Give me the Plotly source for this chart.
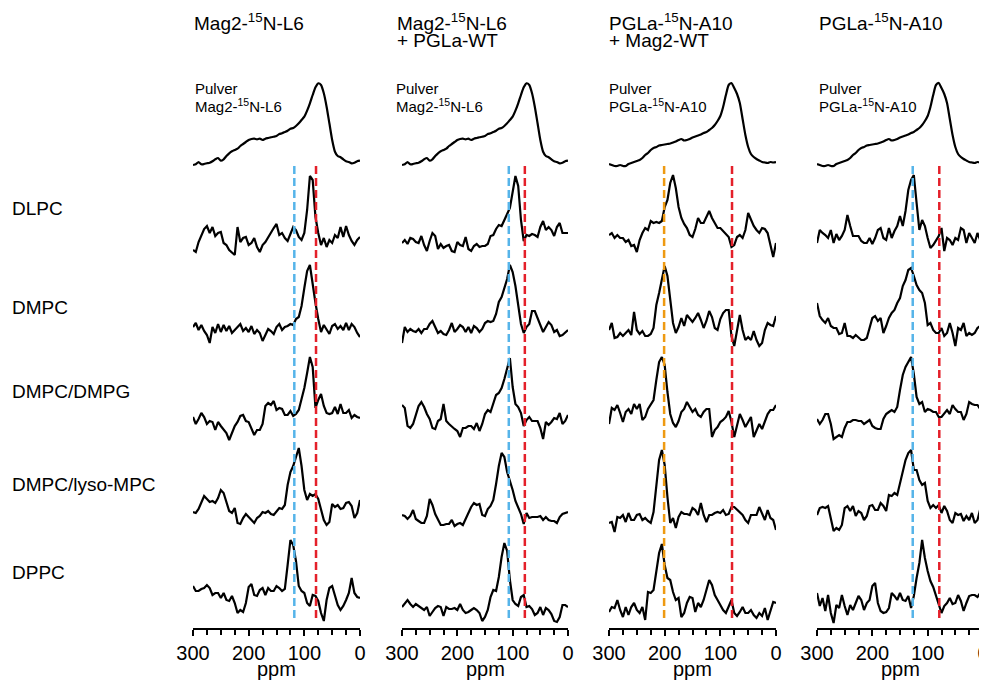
import plotly.graph_objects as go

# ---------------- data ----------------
ppm = list(range(300, -1, -5))  # chemical-shift grid, 300 -> 0 ppm

panel_titles = [["Mag2-<sup>15</sup>N-L6"],
                ["Mag2-<sup>15</sup>N-L6", "+ PGLa-WT"],
                ["PGLa-<sup>15</sup>N-A10", "+ Mag2-WT"],
                ["PGLa-<sup>15</sup>N-A10"]]
pulver_names = ["Mag2-<sup>15</sup>N-L6", "Mag2-<sup>15</sup>N-L6",
                "PGLa-<sup>15</sup>N-A10", "PGLa-<sup>15</sup>N-A10"]
lipids = ["DLPC", "DMPC", "DMPC/DMPG", "DMPC/lyso-MPC", "DPPC"]
tick_vals = [300, 200, 100, 0]
minor_tick_vals = [275, 250, 225, 175, 150, 125, 75, 50, 25]

# reference-line positions (ppm) per panel and their type
ref_ppm = [[118, 79], [107, 78], [201, 79], [127, 79]]
ref_type = [["blue", "red"], ["blue", "red"], ["orange", "red"], ["blue", "red"]]

# powder spectra
pulver_mag2 = [0, 0.7, 3, 0.7, 1, 1.7, 2.3, 3.7, 5.7, 7, 4.3, 5.7, 9, 11.7, 13.7, 15, 16.3, 19, 21, 23,
               25, 26, 26.3, 25.7, 26.3, 25, 26.3, 27, 27.7, 28.3, 29, 31, 31.7, 33, 34.3, 36.3, 37, 39, 41.7, 45,
               48.3, 54.3, 61.7, 70, 77.7, 81.7, 80, 71.7, 58.3, 41.7, 25, 13.3, 9, 7.7, 5.7, 3.7, 3, 1.7, 2.3, 3.7, 4.3]
pulver_pgla = [1, 0, -1, -1, 0, -1, -1, 1, 2, 3, 4, 5, 7, 10, 12, 15, 17, 18, 19.5, 20,
               20.5, 21, 21.5, 22.5, 23.5, 25, 26, 24.5, 25, 26, 27.5, 28.5, 29.5, 30.5, 32, 33, 35, 37, 40, 44,
               49, 58, 70, 80, 82, 77, 71, 62, 46, 30, 18, 11, 8, 6, 4.5, 3, 2.5, 2, 3, 2.5, 3]

# panel 1: Mag2-15N-L6
p1_dlpc = [-10, -12, -2, 5, 11, 14, 7, 13, 4, 7, 8, -3, -5, -10, -13, -15, 13, -2, 2, 3,
           -5, -3, 2, -7, -12, -5, -2, 3, 7, 12, 16, 5, 7, 2, -1, 7, 13, 10, 3, 0,
           7, 30, 64, 60, 23, 7, -5, 2, -7, 0, -3, 5, 2, 13, 3, 14, 5, -1, -5, 0, 3]
p1_dmpc = [0, 4, -3, 2, -4, -8, -16, 0, -6, 3, -5, 2, -4, 1, -6, -3, 1, 3, -4, -1,
           -5, 1, -7, -3, -6, -14, -8, -2, -4, -7, 0, 3, -3, 0, 1, 3, 2, 8, 10, 21,
           39, 56, 62, 42, 24, 8, -5, 2, -3, -7, 1, 3, -2, 1, -3, 4, -3, 3, 0, -6, -10]
p1_dmpg = [3, -4, 1, 7, 3, -4, -1, -2, -10, -2, -6, -9, -13, -20, -13, -6, -2, 4, 5, -1,
           -2, -9, -15, -10, -10, -4, 14, 17, 15, 19, 10, 12, 11, 5, 5, 9, 4, 6, 10, 21,
           32, 47, 63, 53, 12, 20, 26, 14, 7, 6, 7, 13, 6, 16, 7, 7, 10, 2, 5, 3, 2]
p1_lyso = [0, -1, 3, 9, 16, 13, 10, 11, 9, 14, 22, 19, 10, 1, -1, 4, -11, -12, -6, -2,
           -5, -8, -11, -6, -4, 0, -1, 1, -2, -3, 1, 4, 3, 7, 27, 40, 46, 54, 64, 46,
           22, 12, 18, 16, 18, 13, 1, -8, -13, -10, 8, 5, 7, 3, 4, 9, 10, 6, -6, -1, 12]
p1_dppc = [7, 2, 2, 4, 5, 8, 5, -2, 0, 0, -5, 0, -7, -8, -3, -10, -20, -17, -19, -10,
           6, 9, -2, -3, 3, 5, -2, 5, 2, 2, 7, 5, 2, 4, 28, 53, 48, 32, 7, 2,
           0, -10, -13, -2, -3, -8, -20, -28, -7, 5, 7, -2, -12, -17, -13, -7, 0, 15, 0, -4, -5]

# panel 2: Mag2-15N-L6 + PGLa-WT
p2_dlpc = [0, 3, -1, 5, 4, 1, 0, 7, -2, -8, 2, 10, 7, -6, -1, -5, -3, -2, -8, -9,
           1, -2, -3, 6, -6, -8, -3, -1, -4, -3, -3, -1, 7, 8, 14, 18, 17, 24, 29, 35,
           50, 67, 57, 23, 2, 8, 7, 9, 8, 6, 16, 22, 13, 16, 13, 7, 16, 20, 10, 10, 10]
p2_dmpc = [-13, 3, -2, 1, -1, -2, 1, -3, 1, 1, 6, 9, 3, -3, -1, -4, -5, 0, 7, -2,
           1, 5, 3, -2, 3, -3, 4, 2, -2, 1, 7, 9, 8, 9, 16, 28, 33, 41, 51, 65,
           58, 44, 23, 6, -3, 3, 6, 19, 19, 12, 6, -2, 3, 8, 5, -2, 0, -6, -5, -2, 0]
p2_dmpg = [15, 12, -6, -8, -4, 4, 14, 18, 13, 6, 1, -8, -9, -1, 1, 16, -1, -4, -7, -9,
           -11, -17, -8, -8, -6, -6, -9, -3, -11, -4, 6, 10, 8, 17, 25, 27, 32, 41, 51, 62,
           33, 16, 13, 7, -6, 0, 3, -1, -1, -1, -8, -19, -2, -5, -2, 2, 1, 7, -4, -1, 5]
p2_lyso = [5, 4, 1, 4, 10, 1, -1, -3, -3, 4, 21, 15, 6, 1, -5, -5, -4, -4, 0, -6,
           -4, -3, -5, 1, 7, 13, 17, 15, 16, 5, 4, 11, 14, 20, 36, 54, 67, 63, 48, 40,
           30, 19, 12, 6, -4, 7, 2, 3, 3, 3, 4, 0, 3, 0, -1, -1, -3, 3, 6, 7, 8]
p2_dppc = [0, 3, 7, 3, 0, 3, 1, -1, -3, 0, -9, -5, -1, 1, 0, -9, 0, -2, -2, -1,
           -3, 3, -3, -6, -5, -3, -1, -3, -6, -14, -10, -3, 10, 17, 16, 30, 50, 64, 56, 27,
           7, 3, 1, 10, 12, 0, 1, -2, -8, -6, 0, -8, -1, -3, -7, -14, -15, -10, 2, 2, 0]

# panel 3: PGLa-15N-A10 + Mag2-WT
p3_dlpc = [5, 7, 2, 5, 2, 2, -2, 0, -6, -5, -12, 0, 7, 12, 10, 19, 17, 18, 17, 19,
           33, 40, 57, 65, 52, 33, 22, 16, 12, 5, 3, 11, 22, 17, 17, 24, 29, 22, 17, 12,
           12, 9, 6, 3, -7, -5, 3, 5, 2, 10, 27, 20, 14, 10, 7, 12, 11, 7, -5, -17, -3]
p3_dmpc = [3, 10, -5, -4, 0, -3, 0, 3, -2, 21, 3, -1, 2, -3, -3, -1, 5, 28, 40, 55,
           67, 57, 35, 10, 0, 6, 15, 7, 18, 15, 11, 15, 20, 13, 5, 12, 22, 16, 5, 3,
           14, 20, 23, 23, -3, -13, 2, 18, 3, -7, -4, -7, 2, -7, -13, -10, 3, 10, 8, 7, 17]
p3_dmpg = [-7, 9, 7, 12, 4, -5, 5, 8, 3, 13, 8, 13, -3, 0, 8, 13, 17, 37, 55, 60,
           52, 25, 3, -6, -10, -4, 5, 8, 15, 10, 5, 8, 2, 0, 5, 8, 8, -20, -13, -10,
           -5, -3, 0, 6, -5, -20, -8, 3, -3, -10, -5, 0, -20, -13, -7, -12, -5, 3, 7, 7, 12]
p3_lyso = [-3, -2, -12, 3, 2, 5, -2, 7, 0, 0, 5, 6, 0, 2, -1, -3, 8, 32, 60, 70,
           55, 23, -3, 2, -8, 3, 8, 6, 6, 5, 12, 10, 5, 17, 5, -2, 5, 5, 7, 8,
           7, 10, 5, 6, 13, 13, 10, 7, 5, 0, -3, 5, 5, 5, 13, 7, 0, 10, 2, 0, -10]
p3_dppc = [-2, 3, 2, 10, 0, -7, 3, -5, 3, 7, 0, -3, 3, -10, 18, 17, 20, 40, 57, 66,
           45, 32, 30, 18, 10, 12, -7, -3, 7, 13, 12, -2, 7, 3, 10, 20, 30, 25, 15, 10,
           5, 0, -3, 3, 10, -3, -6, -2, 3, -3, -3, 0, -5, -8, -3, -6, 2, -10, -2, 8, 7]

# panel 4: PGLa-15N-A10
p4_dlpc = [-5, 8, 5, 3, 0, 8, -5, 4, -2, 2, 8, 23, 12, 2, 2, 2, -3, -5, -5, 0,
           -6, 0, 8, 10, 0, -2, 10, 0, 7, 12, 22, 12, 27, 48, 58, 63, 35, 8, 18, 12,
           0, -10, -7, -2, 2, 10, -13, 0, -2, -7, 0, -2, 10, 8, -5, 5, 0, -5, 5, -2, -5]
p4_dmpc = [30, 17, 13, 10, 15, 7, 5, 5, -1, 0, 10, -3, -3, -5, -2, -5, -7, -7, -5, 5,
           15, 17, 12, 15, 0, 7, 15, 20, 23, 30, 35, 47, 53, 63, 65, 57, 48, 43, 40, 30,
           8, 10, 3, 0, 0, 5, -3, 0, 10, 0, -13, 5, 3, 10, -3, 0, -2, 0, 5, 7, 0]
p4_dmpg = [3, -2, 2, 8, 8, -2, -17, -15, -13, -15, -6, 0, 0, 2, 2, 1, 1, -2, 0, 2,
           -4, -6, -7, -7, 3, 8, 10, 12, 10, 15, 32, 47, 55, 60, 65, 48, 25, 18, 20, 10,
           13, 12, 10, 10, 5, 5, 8, 12, 8, 17, 13, 10, 10, 2, 8, 20, 18, 17, 17, 13, 5]
p4_lyso = [-2, 5, 6, 5, 7, -5, -18, -15, -17, -12, 5, 7, 2, 7, -3, 2, 0, -7, -3, 7,
           8, 3, 3, 10, 7, 2, 18, 17, 20, 18, 30, 40, 53, 60, 63, 43, 43, 33, 28, 30,
           12, 5, 8, 5, 8, 0, 7, 2, -7, -10, 0, -2, -1, -8, -3, -7, 0, -10, -7, 4, 13]
p4_dppc = [10, -3, 5, -8, 8, -10, -20, -2, -5, 8, -3, -12, -2, -7, 0, 7, 3, -7, 0, 3,
           17, 20, 0, -8, -10, -9, -5, 10, 7, 3, 10, 3, 2, 7, -5, 7, 25, 40, 63, 45,
           32, 22, 16, 8, 0, -10, -3, 0, 5, -1, 0, 8, 2, -8, 0, 7, 8, 8, 6, 10, 5]

panel_spectra = [
    [pulver_mag2, p1_dlpc, p1_dmpc, p1_dmpg, p1_lyso, p1_dppc],
    [pulver_mag2, p2_dlpc, p2_dmpc, p2_dmpg, p2_lyso, p2_dppc],
    [pulver_pgla, p3_dlpc, p3_dmpc, p3_dmpg, p3_lyso, p3_dppc],
    [pulver_pgla, p4_dlpc, p4_dmpc, p4_dmpg, p4_lyso, p4_dppc],
]

# ---------------- layout constants (target pixels in the 987x683 window) ----------------
W, H = 987, 683
OFF = 8                      # page offset of the figure inside the window (body margin)
AXIS_Y = 628
PANEL_X = [(193, 360), (402, 568), (609, 776), (817, 983)]
BASE = [[165, 240, 327, 420, 512, 593],
        [165, 243, 330, 420, 520, 607],
        [165, 240, 333, 417, 520, 610],
        [165, 238, 333, 422, 513, 603]]
TITLE_X = [192, 395, 607, 817]
PULVER_X = [193, 394, 607, 817]
ROW_LABEL_Y = [209, 307, 391, 484, 572]
REF_COLORS = {"blue": "#56B4E9", "red": "#E4202A", "orange": "#EE9A12"}
FONT = "Liberation Sans, Arial, Helvetica, sans-serif"


def fx(px):
    return (px - OFF) / W


def fy(py):
    return 1 - (py - OFF) / H


fig = go.Figure()
layout = dict(width=W, height=H, margin=dict(l=0, r=0, t=0, b=0, autoexpand=False),
              paper_bgcolor="white", plot_bgcolor="white", showlegend=False,
              font=dict(family=FONT, color="black"))
shapes, annotations = [], []

for i in range(4):
    xa = "xaxis" if i == 0 else f"xaxis{i+1}"
    ya = "yaxis" if i == 0 else f"yaxis{i+1}"
    xr = "x" if i == 0 else f"x{i+1}"
    yr = "y" if i == 0 else f"y{i+1}"
    x0, x1 = PANEL_X[i]
    layout[xa] = dict(domain=[fx(x0), fx(x1)], range=[300, 0], anchor=yr, automargin=False,
                      showline=True, linecolor="black", linewidth=2,
                      ticks="outside", tickmode="array", tickvals=tick_vals,
                      ticklen=6, tickwidth=1.5, tickcolor="black",
                      ticklabeloverflow="allow",
                      tickfont=dict(size=20, family=FONT, color="black"),
                      minor=dict(tickmode="array", tickvals=minor_tick_vals, ticks="outside",
                                 ticklen=5, tickwidth=1.5, tickcolor="black"),
                      showgrid=False, zeroline=False, fixedrange=True)
    layout[ya] = dict(domain=[fy(AXIS_Y), 1], range=[AXIS_Y, OFF], anchor=xr, automargin=False,
                      visible=False, showgrid=False, zeroline=False, fixedrange=True)

    for r, spec in enumerate(panel_spectra[i]):
        base = BASE[i][r]
        fig.add_trace(go.Scatter(
            x=ppm, y=[base - v for v in spec], xaxis=xr, yaxis=yr, mode="lines",
            line=dict(color="black", width=2.2, shape="spline" if r == 0 else "linear",
                      smoothing=0.6),
            hoverinfo="skip", cliponaxis=False))

    for p, t in zip(ref_ppm[i], ref_type[i]):
        shapes.append(dict(type="line", xref=xr, yref=yr, x0=p, x1=p, y0=166, y1=619,
                           line=dict(color=REF_COLORS[t], width=2.5, dash="8px,4px"),
                           layer="above"))

    # titles
    for k, line in enumerate(panel_titles[i]):
        annotations.append(dict(text=line, xref="paper", yref="paper",
                                x=fx(TITLE_X[i]), y=fy(22 + 18 * k),
                                xanchor="left", yanchor="middle", showarrow=False,
                                font=dict(size=19, family=FONT, color="black")))
    # powder labels
    annotations.append(dict(text="Pulver", xref="paper", yref="paper",
                            x=fx(PULVER_X[i]), y=fy(88), xanchor="left", yanchor="middle",
                            showarrow=False, font=dict(size=15, family=FONT, color="black")))
    annotations.append(dict(text=pulver_names[i], xref="paper", yref="paper",
                            x=fx(PULVER_X[i]), y=fy(105), xanchor="left", yanchor="middle",
                            showarrow=False, font=dict(size=15, family=FONT, color="black")))
    # axis label
    annotations.append(dict(text="ppm", xref="paper", yref="paper",
                            x=fx((x0 + x1) / 2), y=fy(669), xanchor="center", yanchor="middle",
                            showarrow=False, font=dict(size=20, family=FONT, color="black")))

for lab, yy in zip(lipids, ROW_LABEL_Y):
    annotations.append(dict(text=lab, xref="paper", yref="paper", x=fx(10), y=fy(yy),
                            xanchor="left", yanchor="middle", showarrow=False,
                            font=dict(size=19, family=FONT, color="black")))

layout["shapes"] = shapes
layout["annotations"] = annotations
fig.update_layout(**layout)
fig.write_html("out.html")
